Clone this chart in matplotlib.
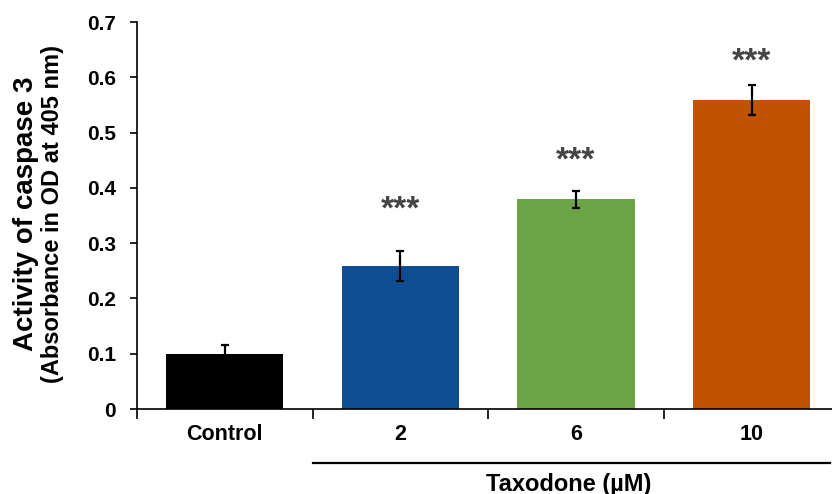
import matplotlib
matplotlib.use("Agg")
import matplotlib.pyplot as plt
from matplotlib.lines import Line2D
import matplotlib.transforms as mtransforms

categories = ["Control", "2", "6", "10"]
values = [0.100, 0.259, 0.379, 0.559]
errors = [0.016, 0.027, 0.015, 0.027]
colors = ["#000000", "#0E4D92", "#6BA444", "#C05200"]
star_labels = ["", "***", "***", "***"]
star_y = [None, 0.360, 0.449, 0.627]
yticks = [0, 0.1, 0.2, 0.3, 0.4, 0.5, 0.6, 0.7]
ytick_labels = ["0", "0.1", "0.2", "0.3", "0.4", "0.5", "0.6", "0.7"]

plt.rcParams['font.family'] = ['Liberation Sans', 'DejaVu Sans']

W, H = 832, 494
fig = plt.figure(figsize=(W / 100, H / 100), dpi=100)
left_px, right_px, top_px, bottom_px = 137, 832, 22, 409
ax = fig.add_axes([left_px / W, 1 - bottom_px / H, (right_px - left_px) / W, (bottom_px - top_px) / H])

x = list(range(len(categories)))
ax.bar(x, values, width=0.667, color=colors, yerr=errors, capsize=3,
       error_kw=dict(elinewidth=1.6, capthick=1.6, ecolor="black"), zorder=2)

for xi, lab, yy in zip(x, star_labels, star_y):
    if lab:
        ax.text(xi, yy, lab, ha="center", va="center", fontsize=24, fontweight="bold",
                color="#454545")

ax.set_ylim(0, 0.7)
ax.set_xlim(-0.5, 3.458)
ax.set_yticks(yticks)
ax.set_yticklabels(ytick_labels, fontsize=15, fontweight="bold")
ax.set_xticks(x)
ax.set_xticklabels(categories, fontsize=15.5, fontweight="bold")
ax.tick_params(axis="x", which="major", length=0, pad=11)
ax.set_xticks([-0.5, 0.5, 1.5, 2.5], minor=True)
ax.tick_params(axis="x", which="minor", length=7, width=1.2, direction="out")
ax.tick_params(axis="y", length=5, width=1.2, direction="out", pad=10)
for s in ["top", "right"]:
    ax.spines[s].set_visible(False)
for s in ["left", "bottom"]:
    ax.spines[s].set_linewidth(1.2)

trans = mtransforms.blended_transform_factory(ax.transData, fig.transFigure)
fig.add_artist(Line2D([0.5, 3.445], [1 - 463 / H, 1 - 463 / H], transform=trans,
                      color="black", linewidth=1.6))
fig.text(1.96, 1 - 484 / H, "Taxodone (\u00b5M)", transform=trans, ha="center", va="center",
         fontsize=17, fontweight="bold")

ycen = 1 - 214 / H
fig.text(26 / W, ycen, "Activity of caspase 3", rotation=90, ha="center", va="center",
         fontsize=20, fontweight="bold")
fig.text(53 / W, ycen, "(Absorbance in OD at 405 nm)", rotation=90, ha="center", va="center",
         fontsize=17, fontweight="bold")

fig.savefig("out.png", dpi=100)
